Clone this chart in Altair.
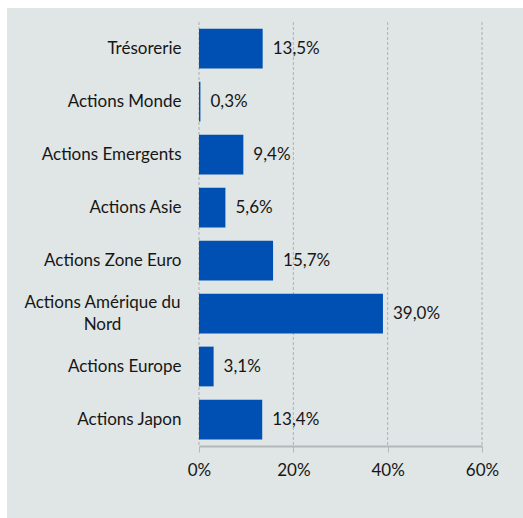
import altair as alt
import pandas as pd

categories = ["Trésorerie", "Actions Monde", "Actions Emergents", "Actions Asie",
              "Actions Zone Euro", "Actions Amérique du Nord", "Actions Europe", "Actions Japon"]
values = [13.5, 0.3, 9.4, 5.6, 15.7, 39.0, 3.1, 13.4]
value_labels = ["13,5%", "0,3%", "9,4%", "5,6%", "15,7%", "39,0%", "3,1%", "13,4%"]
x_ticks = [0, 20, 40, 60]

BG = "#e0e5e5"
BAR = "#0050b4"
TXT = "#161616"
FONT = "Lato"
FS = 17
LONG = "datum.value == 'Actions Amérique du Nord'"

df = pd.DataFrame({"cat": categories, "value": values, "label": value_labels})
grid_df = pd.DataFrame({"t": x_ticks})
one = pd.DataFrame({"a": [0]})

xscale = alt.Scale(domain=[0, 60], nice=False, zero=True)
xaxis = alt.Axis(values=x_ticks, labelExpr="datum.value + '%'", title=None, grid=False,
                 domainColor="#b3b8ba", domainWidth=2, tickColor="#b3b8ba", tickSize=6,
                 labelPadding=10, labelFontSize=FS, labelFont=FONT, labelColor=TXT,
                 labelFlush=False, labelOverlap=False, zindex=1)
yscale = alt.Scale(domain=categories, paddingInner=0.25, paddingOuter=0.125)
yaxis = alt.Axis(title=None, domain=False, ticks=False, labelFontSize=FS,
                 labelFont=FONT, labelColor=TXT, labelLimit=0, labelLineHeight=22, zindex=1,
                 labelPadding={"condition": {"test": LONG, "value": 97}, "value": 18},
                 labelAlign={"condition": {"test": LONG, "value": "center"}, "value": "right"},
                 labelOffset={"condition": {"test": LONG, "value": -11}, "value": 0},
                 labelExpr=LONG + " ? ['Actions Amérique du', 'Nord'] : datum.value")

bg = alt.Chart(one).mark_rect(color=BG, clip=False).encode(
    x=alt.value(-192), x2=alt.value(330), y=alt.value(-14), y2=alt.value(500))

grid = alt.Chart(grid_df).mark_rule(color="#aab0b4", strokeDash=[3, 2], strokeWidth=1).encode(
    x=alt.X("t:Q", scale=xscale, axis=xaxis), y=alt.value(0), y2=alt.value(424))

base = alt.Chart(df).encode(
    x=alt.X("value:Q", scale=xscale, axis=xaxis),
    y=alt.Y("cat:N", sort=categories, scale=yscale, axis=yaxis),
)
bars = base.mark_bar(color=BAR)
text = base.mark_text(align="left", baseline="middle", dx=10, fontSize=FS, font=FONT, color=TXT).encode(
    text="label:N")

chart = alt.layer(bg, grid, bars, text).properties(
    width=283, height=424,
    autosize=alt.AutoSizeParams(type="none"),
    padding={"left": 199, "top": 22, "right": 41, "bottom": 72},
    background="white",
).configure_view(stroke=None)

chart.save("out.html", embed_options={"renderer": "svg", "actions": False})
